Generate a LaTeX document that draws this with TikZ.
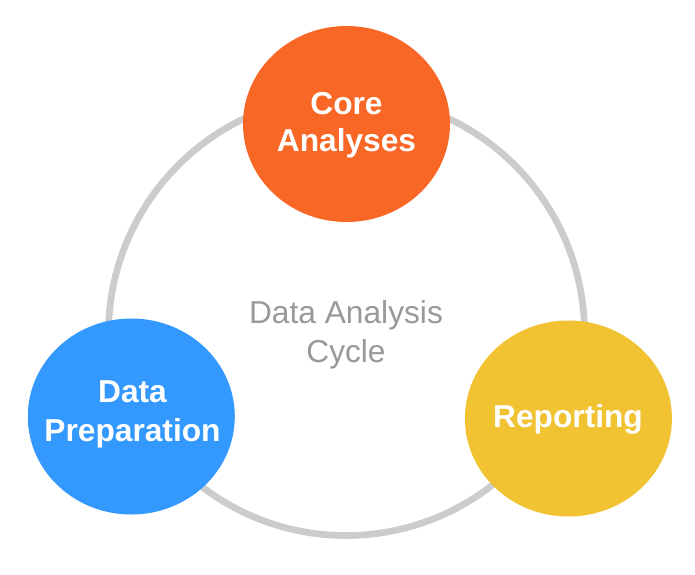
\documentclass[tikz,border=0pt]{standalone}
\usepackage{fontspec}
\setmainfont{Liberation Sans}
\usetikzlibrary{shapes.geometric}
\definecolor{ringgrey}{HTML}{CCCCCC}
\definecolor{textgrey}{HTML}{999999}
\definecolor{coreorange}{HTML}{F96726}
\definecolor{prepblue}{HTML}{3399FF}
\definecolor{repyellow}{HTML}{F1C232}
\tikzset{
  blob/.style={ellipse, draw=none, minimum width=207pt, minimum height=196pt, inner sep=0pt},
  lbl/.style={text=white, font=\fontsize{31.7}{38}\selectfont\bfseries, inner sep=0pt, anchor=base},
  centretext/.style={text=textgrey, font=\fontsize{31.7}{38}\selectfont, inner sep=0pt, anchor=base},
  ring/.style={draw=ringgrey, line width=6.7pt}
}
\begin{document}
\begin{tikzpicture}[x=1pt, y=-1pt]
\useasboundingbox (0,0) rectangle (695,574);
\fill[white] (0,0) rectangle (695,574);
% the cycle ring: upper arc and lower arc (their joins are hidden)
\coordinate (upc) at (346.5,333.5);
\coordinate (loc) at (346,298);
\draw[ring] (upc) ++(170:238) arc[start angle=170, end angle=370, radius=238];
\draw[ring] (loc) ++(170:237.5) arc[start angle=170, end angle=10, radius=237.5];
\node[blob, fill=coreorange] (core) at (346.5,124) {};
\node[blob, fill=prepblue] (prep) at (131.3,416.5) {};
\node[blob, fill=repyellow] (rep) at (568.4,418.5) {};
\node[lbl] (core1) at (346.5,114.7) {Core};
\node[lbl] (core2) at (346.5,151.5) {Analyses};
\node[lbl] (prep1) at (132.5,402.6) {Data};
\node[lbl] (prep2) at (132.5,441) {Preparation};
\node[lbl] (rep1) at (568,427) {Reporting};
\node[centretext] (ct1) at (346,323.5) {Data Analysis};
\node[centretext] (ct2) at (346,362) {Cycle};
\end{tikzpicture}
\end{document}
